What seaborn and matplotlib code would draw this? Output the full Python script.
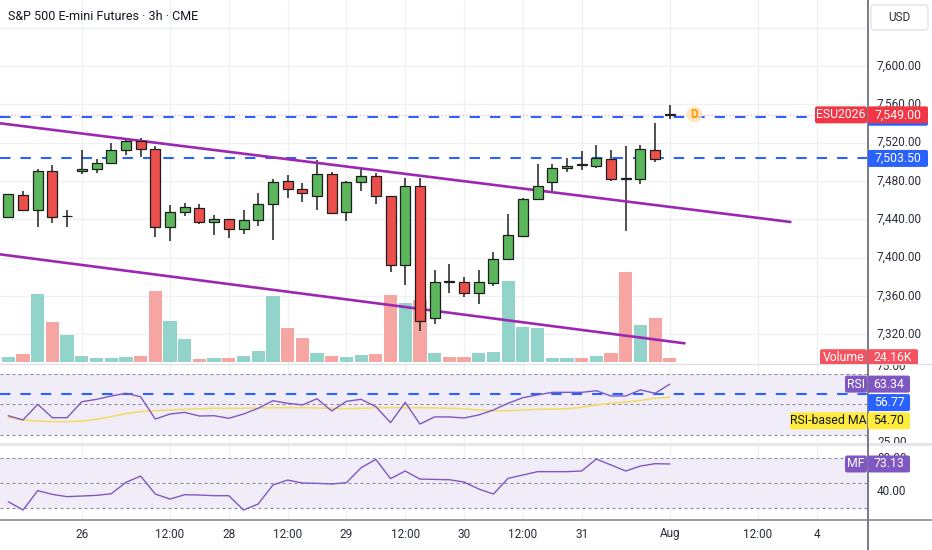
import numpy as np
import matplotlib.pyplot as plt
import seaborn as sns
from matplotlib.patches import FancyBboxPatch
from matplotlib.lines import Line2D
from matplotlib.transforms import Bbox, IdentityTransform, blended_transform_factory

sns.set_style('white')
plt.rcParams['font.family'] = ['Roboto', 'DejaVu Sans']

W, H = 932, 550

# -----------------------------------------------------------
# Data
# -----------------------------------------------------------
opens = [7442, 7465, 7450, 7490, 7443, 7490, 7492, 7499, 7512, 7522,
         7513, 7432, 7448, 7452, 7437, 7440, 7430, 7439, 7456, 7480,
         7472, 7464, 7487, 7448, 7479, 7485, 7464, 7392, 7475, 7337,
         7376, 7375, 7363, 7373, 7398, 7423, 7461, 7479, 7494, 7497.5,
         7496, 7503, 7482.5, 7482, 7512, 7549.5]
highs = [7466.5, 7469, 7492, 7497, 7450, 7512, 7503, 7520, 7524.5, 7524.5,
         7516, 7455, 7457, 7456, 7444, 7440.5, 7450, 7467, 7482, 7486,
         7478, 7502, 7489, 7480, 7493, 7488, 7464, 7483, 7483, 7387,
         7393, 7380, 7387, 7406, 7446, 7462, 7498, 7498, 7504, 7511,
         7518, 7512, 7516, 7517.5, 7541, 7559]
lows = [7441.5, 7450, 7432, 7436, 7432, 7487, 7488, 7499, 7507, 7505,
        7422, 7417, 7443, 7435, 7424, 7420, 7425, 7433, 7418, 7462,
        7458, 7450, 7446, 7438.5, 7470, 7456, 7385, 7371, 7323, 7331,
        7363, 7359, 7352, 7370, 7398, 7423, 7461, 7469, 7489, 7491.5,
        7494, 7480, 7428, 7476.5, 7500, 7544.5]
closes = [7466, 7450, 7490, 7442, 7443.5, 7492, 7499, 7512, 7522, 7513,
          7432, 7448, 7453, 7437, 7440, 7430, 7439, 7456, 7479, 7472,
          7467, 7487, 7447, 7479, 7485, 7464, 7392, 7475, 7334, 7375,
          7375, 7363, 7374, 7398, 7424, 7461, 7475, 7494, 7496, 7497,
          7504, 7482, 7482, 7513, 7503, 7549]
volume_k = [28, 44, 406, 240, 164, 36, 24, 24, 30, 36,
            430, 246, 138, 18, 24, 24, 36, 64, 394, 204,
            146, 52, 36, 30, 38, 44, 400, 356, 372, 50,
            30, 30, 50, 56, 490, 212, 204, 24, 24, 24,
            36, 50, 540, 220, 266, 24.16]
rsi = [42.5, 39.7, 50.0, 41.2, 41.2, 51.7, 53.3, 55.5, 57.3, 55.0,
       40.3, 43.6, 44.7, 42.3, 42.5, 40.8, 43.6, 47.4, 52.4, 50.7,
       49.6, 53.7, 45.6, 52.0, 53.3, 48.5, 37.9, 51.3, 37.0, 41.7,
       41.7, 41.0, 43.0, 46.3, 50.7, 54.4, 56.2, 57.9, 57.9, 57.9,
       59.0, 55.5, 55.5, 59.5, 57.3, 63.34]
rsi_ma = [41.4, 39.7, 39.0, 38.6, 38.6, 39.0, 40.1, 41.9, 43.9, 45.2,
          45.8, 46.3, 46.7, 47.1, 47.4, 47.4, 47.4, 47.6, 47.8, 47.8,
          47.8, 47.6, 47.4, 47.1, 47.4, 47.8, 47.8, 47.8, 47.8, 47.6,
          47.4, 47.1, 46.3, 45.8, 45.8, 46.3, 46.7, 46.9, 47.1, 48.0,
          49.6, 50.7, 51.5, 52.6, 54.0, 54.70]
money_flow = [27.3, 17.2, 40.7, 36.2, 33.4, 34.2, 35.0, 37.0, 50.8, 58.5,
              36.6, 30.5, 35.8, 35.4, 34.6, 34.6, 17.2, 24.5, 47.6, 53.6,
              50.0, 49.6, 48.8, 50.4, 68.6, 78.7, 55.3, 64.6, 54.8, 54.4,
              54.0, 51.2, 42.7, 36.6, 55.7, 59.7, 63.8, 63.8, 63.8, 64.6,
              79.1, 71.9, 64.6, 70.6, 73.5, 73.13]

tick_bars = [5, 11, 15, 19, 23, 27, 31, 35, 39, 45, 51, 55]
tick_labels = ['26', '12:00', '28', '12:00', '29', '12:00', '30', '12:00',
               '31', 'Aug', '12:00', '4']
price_ticks = [7320, 7360, 7400, 7440, 7480, 7520, 7560, 7600]
grid_prices = price_ticks + [7640]

upper_trend_x = [-0.57, 53.2]
upper_trend_y = [7540.2, 7437.2]
lower_trend_x = [-0.57, 46.0]
lower_trend_y = [7403.4, 7310.5]
level_lines = [7546.5, 7503.5]
last_price = 7549.0
rsi_level = 56.77

bars = np.arange(len(closes))
up = np.array(closes) >= np.array(opens)

# -----------------------------------------------------------
# Panes
# -----------------------------------------------------------
fig = plt.figure(figsize=(W / 100, H / 100), dpi=100)
fig.patch.set_facecolor('white')


def pane(top, bottom, face='none'):
    a = fig.add_axes([0, 1 - bottom / H, 868 / W, (bottom - top) / H], facecolor=face)
    a.set_xlim(-0.565, 58.48)
    for s in a.spines.values():
        s.set_visible(False)
    a.tick_params(length=0, labelleft=False, labelbottom=False)
    return a


grid_ax = pane(0, 364, 'white')
vol_ax = pane(0, 364)
ax = pane(0, 364)
rsi_ax = pane(364, 443, 'white')
mf_ax = pane(445, 520, 'white')

grid_color = '#eef0f4'
grid_ax.set_ylim(7288.9, 7668.9)
grid_ax.set_yticks(grid_prices)
for a in (grid_ax, rsi_ax, mf_ax):
    a.set_xticks(tick_bars)
    a.grid(axis='x', color=grid_color, lw=1)
grid_ax.grid(axis='y', color=grid_color, lw=1)
mf_ax.set_yticks([40])
mf_ax.grid(axis='y', color=grid_color, lw=1)

# Volume
vol_ax.bar(bars, volume_k, width=0.9, lw=0,
           color=np.where(up, '#92d3ca', '#f5a5a2'))
vol_ax.set_ylim(-13.9, 2184.7)

# Candles
ax.set_ylim(7288.9, 7668.9)
for v in level_lines:
    ax.axhline(v, color='#2962ff', lw=1.5, dashes=(5, 4.8), zorder=2)
ax.axhline(last_price, color='#f7525f', alpha=0.55, lw=0.8,
           linestyle=(0, (1, 2.2)), zorder=2)
ax.vlines(bars, lows, highs, color='#1f1f1f', lw=1.1, zorder=3)
ax.plot(upper_trend_x, upper_trend_y, color='#9c27b0', lw=1.9, zorder=3.5)
ax.plot(lower_trend_x, lower_trend_y, color='#9c27b0', lw=1.9, zorder=3.5)
body_lo = np.minimum(opens, closes)
body_h = np.maximum(np.abs(np.subtract(closes, opens)), 0.7)
ax.bar(bars, body_h, bottom=body_lo, width=0.68,
       color=np.where(up, '#5cb65c', '#ec4e4b'),
       edgecolor='#1f1f1f', linewidth=0.9, zorder=4)
ax.scatter([46.67], [7549.6], s=130, color='#ffe0b2', alpha=0.8, lw=0, zorder=5)
ax.text(46.67, 7549.6, 'D', color='#ff9800', fontsize=8.5, fontweight='bold',
        ha='center', va='center', zorder=6)

# RSI
rsi_ax.axhspan(30, 70, color='#7e57c2', alpha=0.1, lw=0, zorder=0)
for lvl in (70, 50, 30):
    rsi_ax.axhline(lvl, color='#8a8d96', lw=0.8, dashes=(2.7, 2.7))
rsi_ax.axhline(rsi_level, color='#2962ff', lw=1.5, dashes=(5, 4.8))
sns.lineplot(x=bars, y=rsi_ma, ax=rsi_ax, color='#f4dc6a', lw=1.2)
sns.lineplot(x=bars, y=rsi, ax=rsi_ax, color='#7e57c2', lw=1.0)
rsi_ax.set_ylim(24.5, 76.6)

# Money flow
mf_ax.axhspan(20, 80, color='#7e57c2', alpha=0.1, lw=0, zorder=0)
for lvl in (80, 50, 20):
    mf_ax.axhline(lvl, color='#8a8d96', lw=0.8, dashes=(2.7, 2.7))
sns.lineplot(x=bars, y=money_flow, ax=mf_ax, color='#7e57c2', lw=1.0)
mf_ax.set_ylim(5.05, 96.2)

for a in (grid_ax, vol_ax, ax, rsi_ax, mf_ax):
    a.set_xlabel('')
    a.set_ylabel('')

# -----------------------------------------------------------
# Right scale, tags, frame
# -----------------------------------------------------------
text_color = '#2a2e39'


def clip_of(a):
    return Bbox.from_extents(0, a.bbox.y0, W, a.bbox.y1)


def axis_text(a, value, s):
    t = a.text(877 / W, value, s, transform=blended_transform_factory(fig.transFigure, a.transData),
               va='center', ha='left', fontsize=8.5, color=text_color)
    t.set_clip_box(clip_of(a))
    t.set_clip_on(True)


def tag(a, value, x0, x1, s, fc, tc='white', dy=0):
    yd = a.transData.transform((0, value))[1] - dy
    cb = clip_of(a)
    box = FancyBboxPatch((x0, yd - 8.5), x1 - x0, 17, boxstyle='round,pad=0,rounding_size=2',
                         fc=fc, ec='none', transform=IdentityTransform(), zorder=20)
    box.set_clip_box(cb)
    fig.add_artist(box)
    t = fig.text((x0 + x1) / 2, yd, s, transform=IdentityTransform(), ha='center', va='center',
                 color=tc, fontsize=8.8, zorder=21)
    t.set_clip_box(cb)
    t.set_clip_on(True)


for p in price_ticks:
    axis_text(ax, p, f'{p:,.2f}')
axis_text(rsi_ax, 75, '75.00')
axis_text(rsi_ax, 25, '25.00')
axis_text(mf_ax, 80, '80.00')
axis_text(mf_ax, 40, '40.00')

tag(ax, level_lines[0], 868, 928, '', '#2962ff')
tag(ax, last_price, 815, 867, 'ESU2026', '#f23645')
tag(ax, last_price, 868, 928, f'{last_price:,.2f}', '#f23645')
tag(ax, level_lines[1], 868, 928, f'{level_lines[1]:,.2f}', '#2962ff')
tag(vol_ax, volume_k[-1], 820, 867, 'Volume', '#f7525f')
tag(vol_ax, volume_k[-1], 868, 918, f'{volume_k[-1]:.2f}K', '#f7525f')
tag(rsi_ax, rsi[-1], 845, 867, 'RSI', '#7e57c2')
tag(rsi_ax, rsi[-1], 868, 910, f'{rsi[-1]:.2f}', '#7e57c2')
tag(rsi_ax, rsi_level, 868, 910, f'{rsi_level:.2f}', '#2962ff', dy=8.5)
tag(rsi_ax, rsi_ma[-1], 790, 867, 'RSI-based MA', '#ffeb3b', tc='#131722', dy=23.6)
tag(rsi_ax, rsi_ma[-1], 868, 910, f'{rsi_ma[-1]:.2f}', '#ffeb3b', tc='#131722', dy=23.6)
tag(mf_ax, money_flow[-1], 845, 867, 'MF', '#7e57c2')
tag(mf_ax, money_flow[-1], 868, 910, f'{money_flow[-1]:.2f}', '#7e57c2')

usd = FancyBboxPatch((871, H - 30), 57, 25, boxstyle='round,pad=0,rounding_size=3',
                     fc='white', ec='#e0e3eb', lw=1, transform=IdentityTransform(), zorder=20)
fig.add_artist(usd)
fig.text(899.5, H - 17.5, 'USD', transform=IdentityTransform(), ha='center', va='center',
         fontsize=8.5, color=text_color, zorder=21)

fig.text(8 / W, 1 - 17 / H, 'S&P 500 E-mini Futures · 3h · CME', fontsize=9,
         va='center', ha='left', color='#131722')

xt = blended_transform_factory(mf_ax.transData, fig.transFigure)
for b, s in zip(tick_bars, tick_labels):
    mf_ax.text(b, 1 - 534 / H, s, transform=xt, ha='center', va='center',
               fontsize=8.5, color=text_color)

fig.add_artist(Line2D([0, 1], [1 - 364 / H] * 2, color='#e0e3eb', lw=1, transform=fig.transFigure))
fig.add_artist(Line2D([0, 1], [1 - 444 / H] * 2, color='#e3e5eb', lw=2, transform=fig.transFigure))
fig.add_artist(Line2D([0, 1], [1 - 520 / H] * 2, color='#8a8d96', lw=1.2, transform=fig.transFigure))
fig.add_artist(Line2D([868 / W] * 2, [0, 1], color='#787b86', lw=1.4, transform=fig.transFigure))

fig.savefig('out.png', dpi=100)
